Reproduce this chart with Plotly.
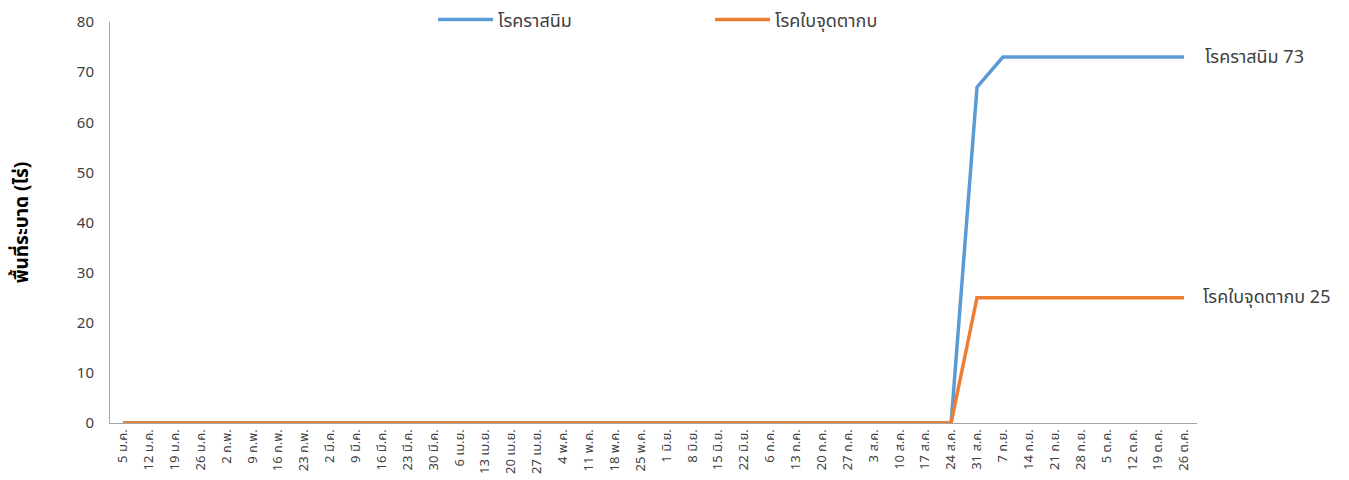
import plotly.graph_objects as go

categories = ["5 ม.ค.", "12 ม.ค.", "19 ม.ค.", "26 ม.ค.", "2 ก.พ.", "9 ก.พ.", "16 ก.พ.", "23 ก.พ.",
              "2 มี.ค.", "9 มี.ค.", "16 มี.ค.", "23 มี.ค.", "30 มี.ค.", "6 เม.ย.", "13 เม.ย.", "20 เม.ย.",
              "27 เม.ย.", "4 พ.ค.", "11 พ.ค.", "18 พ.ค.", "25 พ.ค.", "1 มิ.ย.", "8 มิ.ย.", "15 มิ.ย.",
              "22 มิ.ย.", "6 ก.ค.", "13 ก.ค.", "20 ก.ค.", "27 ก.ค.", "3 ส.ค.", "10 ส.ค.", "17 ส.ค.",
              "24 ส.ค.", "31 ส.ค.", "7 ก.ย.", "14 ก.ย.", "21 ก.ย.", "28 ก.ย.", "5 ต.ค.", "12 ต.ค.",
              "19 ต.ค.", "26 ต.ค."]

rust_name = "โรคราสนิม"
leafspot_name = "โรคใบจุดตากบ"
rust = [0] * 33 + [67] + [73] * 8
leafspot = [0] * 33 + [25] + [25] * 8

FONT = "Tahoma, 'Noto Sans Thai', 'Noto Sans', sans-serif"
x_idx = list(range(len(categories)))

fig = go.Figure()
fig.add_trace(go.Scatter(x=x_idx, y=rust, name=rust_name, mode="lines",
                         line=dict(color="#5B9BD5", width=3.5)))
fig.add_trace(go.Scatter(x=x_idx, y=leafspot, name=leafspot_name, mode="lines",
                         line=dict(color="#ED7D31", width=3.5)))

fig.add_annotation(x=x_idx[-1], y=rust[-1], text=f"{rust_name} {rust[-1]}", showarrow=False,
                   xanchor="left", xshift=19, font=dict(size=18, color="#404040", family=FONT))
fig.add_annotation(x=x_idx[-1], y=leafspot[-1], text=f"{leafspot_name} {leafspot[-1]}", showarrow=False,
                   xanchor="left", xshift=17, font=dict(size=18, color="#404040", family=FONT))

fig.update_layout(
    width=1341, height=472,
    margin=dict(l=102, r=152, t=14, b=57, autoexpand=False),
    plot_bgcolor="white", paper_bgcolor="white",
    font=dict(family=FONT, color="#404040"),
    showlegend=True,
    legend=dict(orientation="h", xref="container", yref="container", x=0.317, y=0.975,
                xanchor="left", yanchor="middle", itemwidth=55, entrywidth=207, entrywidthmode="pixels",
                font=dict(size=18, family=FONT, color="#404040"), bgcolor="rgba(0,0,0,0)",
                itemclick=False),
    xaxis=dict(tickmode="array", tickvals=x_idx, ticktext=categories, tickangle=-90,
               range=[-0.5, len(categories) - 0.5], showgrid=False, zeroline=False,
               showline=True, linecolor="#A6A6A6", ticks="", tickfont=dict(size=13, color="#404040")),
    yaxis=dict(range=[0, 80], dtick=10, showgrid=False, zeroline=False, showline=True,
               linecolor="#A6A6A6", ticks="", tickfont=dict(size=15, color="#404040"),
               ticklabelstandoff=12,
               title=dict(text="<b>พื้นที่ระบาด (ไร่)</b>", font=dict(size=19, color="#000000"), standoff=44)),
)

fig.write_html("out.html")
